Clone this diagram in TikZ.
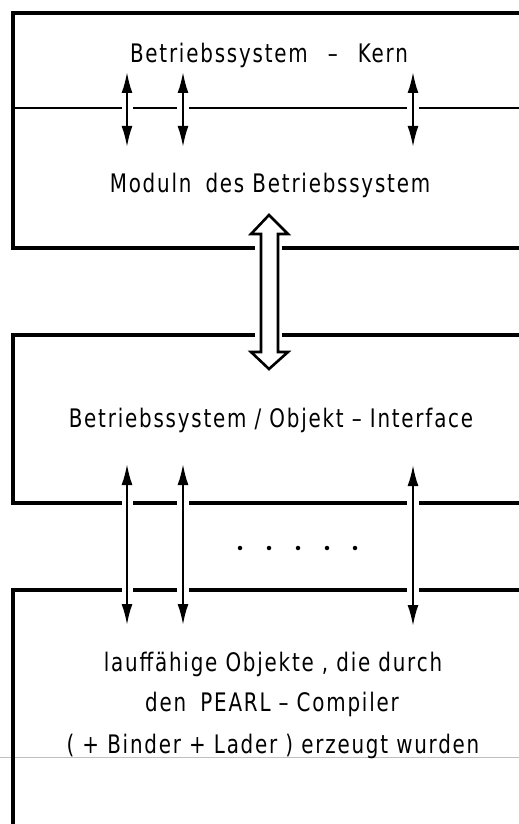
\documentclass[tikz,border=0pt]{standalone}
\usepackage{fontspec}
\setmainfont{DejaVu Sans}[FakeStretch=0.78, LetterSpace=7]
\usetikzlibrary{arrows.meta}
\tikzset{
  boxline/.style={line width=3.4pt, line cap=butt},
  sepline/.style={line width=2.2pt},
  dblarrow/.style={line width=2.2pt, {Latex[length=21pt,width=11pt]}-{Latex[length=21pt,width=11pt]}},
  hollow/.style={line width=2.6pt, fill=white, line join=miter},
  lbl/.style={inner sep=0pt, font=\fontsize{25.5}{31}\selectfont, align=center},
  dot/.style={circle, fill=black, inner sep=0pt, minimum size=4.5pt},
}
\begin{document}
\begin{tikzpicture}[x=1pt,y=-1pt]
\useasboundingbox (0,0) rectangle (519,824);
\fill[white] (0,0) rectangle (519,824);
% faint scan line
\draw[black!25, line width=0.5pt] (0,757) -- (519,757);
% top box
\draw[boxline] (519,13) -- (13,13) -- (13,248) -- (255,248);
\draw[boxline] (282,248) -- (519,248);
\draw[sepline] (13,108) -- (122,108) (133,108) -- (177,108) (189,108) -- (407,108) (419,108) -- (519,108);
% middle box
\draw[boxline] (255,335) -- (13,335) -- (13,503) -- (122,503);
\draw[boxline] (282,335) -- (519,335);
\draw[boxline] (133,503) -- (177,503) (189,503) -- (407,503) (419,503) -- (519,503);
% bottom box
\draw[boxline] (13,824) -- (13,590) -- (122,590);
\draw[boxline] (133,590) -- (177,590) (189,590) -- (407,590) (419,590) -- (519,590);
% text
\node[lbl] (kern) at (269,55) {Betriebssystem\hspace{12pt} –\hspace{12pt} Kern};
\node[lbl] (modul) at (270,185) {Moduln\hspace{6pt} des Betriebssystem};
\node[lbl] (iface) at (271,420) {Betriebssystem / Objekt – Interface};
\node[lbl] (l1) at (273,664) {lauffähige Objekte , die durch};
\node[lbl] (l2) at (272,704) {den\hspace{6pt} PEARL – Compiler};
\node[lbl] (l3) at (273,746) {( + Binder + Lader ) erzeugt wurden};
% dots
\node[dot] (d1) at (240,548) {};
\node[dot] (d2) at (269,548) {};
\node[dot] (d3) at (298,548) {};
\node[dot] (d4) at (327,548) {};
\node[dot] (d5) at (355,548) {};
% small double arrows
\coordinate (a1t) at (127,72); \coordinate (a1b) at (127,147);
\coordinate (a2t) at (183,72); \coordinate (a2b) at (183,147);
\coordinate (a3t) at (413,72); \coordinate (a3b) at (413,147);
\draw[dblarrow] (a1t) -- (a1b);
\draw[dblarrow] (a2t) -- (a2b);
\draw[dblarrow] (a3t) -- (a3b);
% long double arrows
\coordinate (b1t) at (127,464); \coordinate (b1b) at (127,625);
\coordinate (b2t) at (183,464); \coordinate (b2b) at (183,625);
\coordinate (b3t) at (413,465); \coordinate (b3b) at (413,626);
\draw[dblarrow] (b1t) -- (b1b);
\draw[dblarrow] (b2t) -- (b2b);
\draw[dblarrow] (b3t) -- (b3b);
% hollow arrow
\draw[hollow] (269,215) -- (288,234) -- (278,234) -- (278,352) -- (288,352) -- (269,369) -- (251,352) -- (261,352) -- (261,234) -- (251,234) -- cycle;
\end{tikzpicture}
\end{document}
